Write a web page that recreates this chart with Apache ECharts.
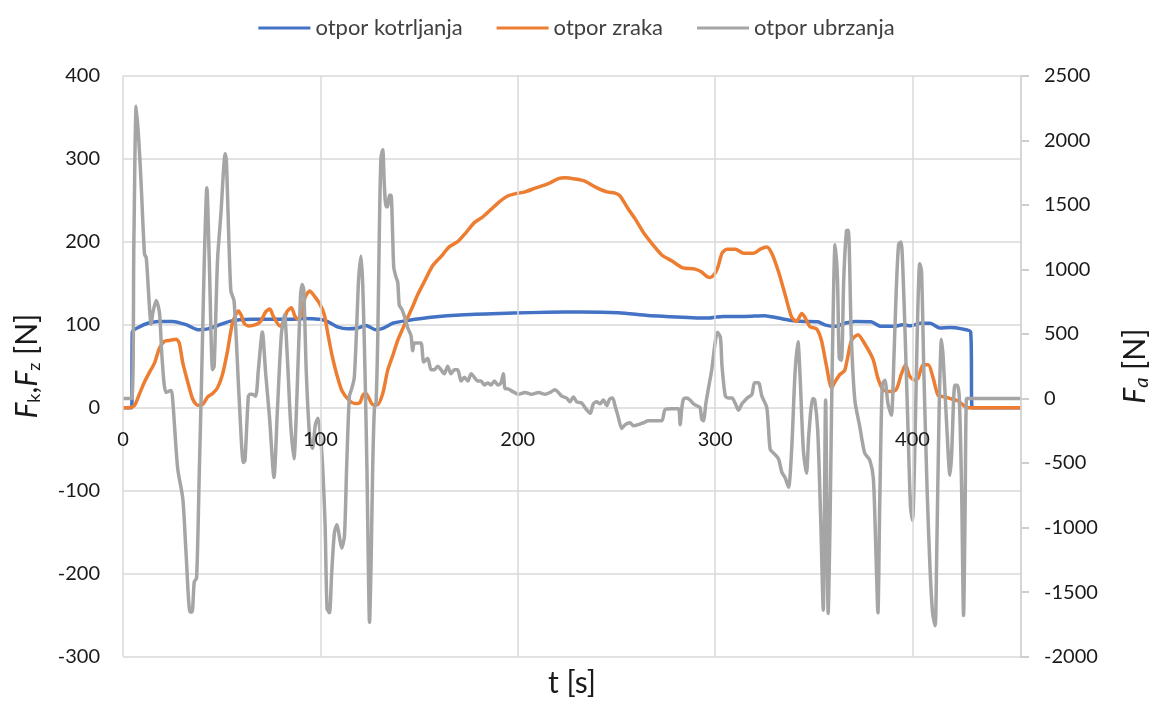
<!DOCTYPE html>
<html>
<head>
<meta charset="utf-8">
<title>Otpori vožnje</title>
<script src="https://cdn.jsdelivr.net/npm/echarts@6/dist/echarts.min.js"></script>
<style>
  html, body { margin: 0; padding: 0; background: #fff; }
  #chart { width: 1153px; height: 705px; }
</style>
</head>
<body>
<div id="chart"></div>
<script>
// otpor kotrljanja (lijeva os, N)
var tKotrljanja = [0, 4.4, 4.7, 8, 13, 18, 25, 32, 38, 43, 48, 54, 59, 65, 75, 85, 92, 97, 100, 104, 109, 114, 119, 123, 128, 132, 137, 144, 156, 173, 198, 215, 232, 251, 266, 275, 297, 300, 304, 315, 325, 332, 339, 345, 352, 356, 361, 366, 371, 379, 384, 391, 395, 399, 404, 409, 414, 419, 425, 429.5, 430.3, 455];
var fKotrljanja = [0, 0, 91, 97, 102, 104, 104, 100, 94, 95, 99, 104, 106, 106.5, 106.5, 106.5, 107.5, 107, 106.5, 103.5, 97, 95, 96, 99, 94, 96, 102, 105, 109, 112, 114, 115, 115.4, 114.4, 111, 110, 108, 109, 110, 110, 110.8, 108, 105, 104, 103.5, 99.5, 98, 102, 104, 103.5, 98, 98, 100, 98.6, 101.6, 101.6, 96, 96.6, 95, 91.3, 0, 0];

// otpor zraka (lijeva os, N)
var tZraka = [0, 3, 5.9, 8.4, 10.9, 13.4, 16, 18.5, 21, 23.5, 27, 28.5, 30.3, 32.8, 35.3, 37.8, 40.3, 42.9, 45.4, 47.9, 50.4, 52.9, 55.5, 58.5, 60, 61.3, 63.6, 67.2, 69.7, 72.3, 74.4, 76, 79.6, 81.5, 83, 85.3, 87, 88.7, 90.8, 92.1, 94.6, 96.5, 99.7, 102, 103.8, 106, 108.2, 111, 114.9, 117.5, 120, 121.5, 123.1, 124.8, 126.5, 129, 131.6, 134.1, 136.7, 139.2, 141.7, 144.3, 146.8, 149.3, 152.7, 156.9, 161.1, 165.4, 169.6, 173.8, 178, 182.3, 186.5, 190.7, 194.9, 199.2, 203.7, 208.8, 215.5, 220.6, 224, 229, 234, 239.2, 245.1, 249.3, 251.9, 256.1, 259.5, 263.7, 267.9, 273, 278, 283.1, 284.8, 289.9, 293.2, 295.8, 297.5, 300, 301.5, 303.5, 306, 310.3, 314.5, 319.5, 322.9, 326.2, 328.7, 332.1, 335.5, 338.8, 341.3, 343.9, 345.5, 348.1, 351.4, 353.9, 356.5, 359, 360.7, 363.2, 365.7, 369.1, 372.4, 375.8, 380, 382.5, 385, 388.4, 391.8, 394.3, 396.5, 398.6, 401.2, 402.9, 405.4, 408, 410.5, 413, 416.4, 419.8, 423.2, 426.6, 428.3, 455];
var fZraka = [0, 0, 3, 17, 31, 42.5, 54, 72, 80, 81, 82.4, 78, 54, 31, 10.5, 3, 3.7, 13, 17, 24, 40, 67.6, 102, 116.5, 111, 102, 98.4, 100, 104, 115.5, 119, 111, 98.4, 104, 115.5, 120.5, 111, 106.5, 113, 132, 140.6, 136, 125, 112, 89, 62, 41, 20, 8, 5, 6, 15, 17, 10.5, 3.7, 3.7, 17, 45, 63, 81, 95, 109, 122, 136, 152, 171, 182, 194, 200, 211, 223, 230, 239, 248, 255, 258, 260, 264.5, 270, 276, 277, 275.6, 273, 266, 260, 258.5, 255, 239, 227.5, 211, 198, 184, 177, 169, 168, 167, 163.5, 158, 157, 162, 170, 186, 191, 191, 186, 186, 191, 193.6, 186, 164, 136, 109, 104, 113.5, 109, 97.5, 95, 81, 49.5, 24, 31, 40, 45, 81, 88, 77, 58.6, 35.6, 22, 19.6, 22, 40, 51.6, 38, 33, 35.6, 51.6, 51.6, 35.6, 15, 13, 10.5, 8, 1.4, 0, 0];

// otpor ubrzanja (desna os, N)
var tUbrzanja = [0, 4.4, 5.5, 6.7, 8, 9.2, 10.9, 11.8, 14.3, 15.1, 16.8, 18.5, 19.8, 21.8, 24.4, 25.2, 27.7, 30.3, 31.9, 34, 35, 36.1, 37.3, 38.7, 39.8, 41.2, 42.5, 43.7, 45.4, 46.2, 47.9, 49.6, 51.8, 52.4, 54.6, 56.3, 58.8, 61, 61.8, 63.5, 64.4, 65.5, 67.2, 68.6, 70.6, 72.3, 74.3, 76.5, 78.2, 80.2, 81.8, 83.2, 84.9, 86.6, 88.2, 89.9, 90.8, 91.6, 92.9, 94.6, 96, 97.5, 98.8, 100, 101.2, 102.4, 103.4, 104.6, 105.7, 107.1, 108.4, 109.6, 110.8, 112.2, 113.3, 114.7, 115.9, 117.2, 118.6, 119.4, 120.6, 121.5, 122.6, 123.6, 124.3, 124.9, 125.7, 126.5, 127.4, 128.2, 129.1, 129.9, 130.7, 131.6, 132.4, 133.3, 134.1, 135, 135.8, 136.6, 137.2, 138.3, 139.2, 140, 141.2, 142.6, 144.3, 145.9, 146.8, 147.6, 149.3, 151, 152.4, 154.4, 156.1, 157.8, 159.5, 161.1, 162.8, 164.5, 166.2, 167.9, 169.6, 171.3, 173, 174.7, 176.4, 178, 179.7, 181.4, 183.1, 184.8, 186.5, 188.2, 190, 191.5, 192.7, 193.6, 194.9, 196.6, 198.3, 200.3, 203.7, 207, 210.5, 213.9, 216.4, 218.9, 220.6, 222.3, 224.8, 226.5, 228.2, 229.9, 232.4, 234.1, 236.7, 238.3, 240, 241.7, 243.4, 245.1, 246.5, 248.1, 249.3, 250.7, 252.7, 254.4, 256.9, 258.6, 261.1, 263.7, 266.2, 269.6, 273, 274.7, 278, 281.4, 282.3, 283.1, 284, 285.6, 287.3, 289, 290.7, 292.4, 293.2, 294.1, 295.3, 296.6, 298.3, 300, 301.2, 302.7, 303.5, 305.2, 306.9, 308.6, 310.3, 311.9, 313.6, 315.3, 317, 318.7, 320, 322, 323.7, 326.2, 327.9, 329.6, 332.1, 333.8, 335.5, 337.2, 338.8, 340.5, 342, 343, 344.7, 346.3, 347.5, 349.5, 350.5, 352, 353.6, 354.8, 356, 357.3, 358.2, 359, 359.8, 360.8, 362, 362.9, 364, 365.2, 366.6, 367.5, 369, 370.8, 373.3, 375.8, 378.4, 380.2, 381.5, 382.5, 383.4, 384.7, 386, 387.6, 389.3, 390.6, 391.8, 393, 394.2, 395.1, 396.3, 397.6, 399, 400, 401.2, 402.4, 403.7, 404.6, 405.8, 407.4, 408.8, 410.2, 411.5, 412.2, 413.5, 414.7, 415.6, 417.3, 419, 419.8, 421.5, 422.7, 423.7, 424.9, 425.9, 426.6, 427.4, 428.3, 455];
var fUbrzanja = [0, 0, 1200, 2263, 2000, 1659, 1118, 1089, 575, 662, 759, 662, 310, 47, 61, -13, -541, -776, -1184, -1654, -1654, -1421, -1390, -541, 135, 1073, 1632, 1073, 223, 250, 1073, 1427, 1896, 1838, 839, 752, 17, -496, -482, 17, 32, 32, 17, 223, 514, 192, -159, -612, -100, 488, 649, 340, -187, -467, 47, 781, 882, 839, 192, -300, -385, -200, -153, -277, -541, -978, -1627, -1660, -1363, -1042, -978, -1067, -1158, -1067, -541, 17, 76, 164, 636, 926, 1103, 868, 223, -541, -1274, -1735, -1274, -541, -72, -41, 488, 1309, 1864, 1926, 1659, 1485, 1485, 1575, 1575, 1280, 1015, 942, 900, 720, 694, 636, 546, 488, 370, 430, 430, 430, 282, 311, 223, 223, 250, 223, 192, 250, 192, 223, 223, 135, 164, 135, 192, 164, 135, 135, 105, 120, 105, 135, 105, 120, 192, 76, 76, 61, 47, 32, 47, 32, 47, 32, 47, 68, 47, 18, 3, -26, 12, -26, -35, -71, -115, -41, -26, -41, -12, -56, -6, 3, -56, -129, -232, -203, -188, -212, -203, -188, -173, -173, -173, -85, -79, -79, -203, -79, -6, 3, -12, -41, -56, -71, -159, -173, -41, 76, 223, 429, 512, 473, 253, 18, 3, 3, -41, -91, -41, -12, 12, 32, 121, 121, 18, -71, -394, -423, -467, -570, -614, -688, -394, 194, 440, 194, -394, -580, -276, 0, -12, -247, -982, -1640, -12, -1665, -1000, -100, 635, 1190, 929, 312, 296, 929, 1300, 1303, 488, -12, -218, -423, -478, -620, -1200, -1660, -835, 106, 142, -41, -130, 312, 841, 1194, 1212, 1017, 488, -159, -835, -945, -397, 485, 1044, 985, 191, -691, -1279, -1661, -1760, -1300, -103, 456, 309, -191, -594, -450, 103, 103, 15, -691, -1680, -985, 0, 0, 0];

var seriesNames = ['otpor kotrljanja', 'otpor zraka', 'otpor ubrzanja'];
var seriesColors = ['#4472C4', '#ED7D31', '#A5A5A5'];

function zip(t, f) {
  var out = [];
  for (var i = 0; i < t.length; i++) out.push([t[i], f[i]]);
  return out;
}

var chart = echarts.init(document.getElementById('chart'));
var font = 'Lato, "Noto Sans", sans-serif';
var gridColor = '#D9D9D9';
var textColor = '#1a1a1a';

// grid box, and where y = 0 of the left axis sits inside it
var gridTop = 75.7, gridBottom = 48.3;
var plotH = 705 - gridTop - gridBottom;
var zeroFromBottom = plotH * 300 / 700;

function plain(v) { return String(v); }

function lineSeries(i, data, yIndex) {
  return {
    name: seriesNames[i],
    type: 'line',
    yAxisIndex: yIndex,
    data: data,
    showSymbol: false,
    symbol: 'none',
    smooth: 0.25,
    lineStyle: { width: 3.5, color: seriesColors[i] },
    itemStyle: { color: seriesColors[i] },
    z: 2 + i,
    animation: false
  };
}

var option = {
  animation: false,
  textStyle: { fontFamily: font },
  legend: {
    top: 12,
    left: 'center',
    icon: 'rect',
    itemWidth: 52,
    itemHeight: 3,
    itemGap: 34,
    textStyle: { fontSize: 22, color: '#404040', fontFamily: font },
    data: seriesNames
  },
  grid: {
    left: 123, right: 132, top: gridTop, bottom: gridBottom,
    containLabel: false,
    outerBoundsMode: 'none'
  },
  xAxis: {
    type: 'value',
    min: 0,
    max: 455,
    interval: 100,
    z: 10,
    name: 't [s]',
    nameLocation: 'middle',
    nameGap: 12,
    nameTextStyle: { fontSize: 30, color: textColor, fontFamily: font, verticalAlign: 'top' },
    axisLine: { show: false },
    axisTick: { show: false },
    // labels sit just under the y = 0 line of the left axis
    axisLabel: { fontSize: 20, color: textColor, margin: -(zeroFromBottom - 22), showMaxLabel: false, fontFamily: font, formatter: plain },
    splitLine: { show: true, lineStyle: { color: gridColor, width: 1.5 } }
  },
  yAxis: [
    {
      type: 'value',
      position: 'left',
      min: -300,
      max: 400,
      interval: 100,
      name: '{i|F}{s|k}{t|,}{i|F}{s|z}{t| [N]}',
      nameLocation: 'middle',
      nameRotate: 90,
      nameGap: 80,
      nameTextStyle: {
        color: textColor,
        rich: {
          i: { fontSize: 30, fontStyle: 'italic', color: textColor, fontFamily: font },
          s: { fontSize: 18, color: textColor, fontFamily: font, padding: [14, 0, 0, 0] },
          t: { fontSize: 30, color: textColor, fontFamily: font }
        }
      },
      axisLine: { show: false },
      axisTick: { show: false },
      axisLabel: { fontSize: 20, color: textColor, margin: 23, fontFamily: font, formatter: plain },
      splitLine: { show: true, lineStyle: { color: gridColor, width: 1.5 } }
    },
    {
      type: 'value',
      position: 'right',
      min: -2000,
      max: 2500,
      interval: 500,
      name: '{i|F}{s|a}{t| [N]}',
      nameLocation: 'middle',
      nameRotate: 90,
      nameGap: 97,
      nameTextStyle: {
        color: textColor,
        rich: {
          i: { fontSize: 30, fontStyle: 'italic', color: textColor, fontFamily: font },
          s: { fontSize: 20, fontStyle: 'italic', color: textColor, fontFamily: font, padding: [14, 0, 0, 0] },
          t: { fontSize: 30, color: textColor, fontFamily: font }
        }
      },
      axisLine: { show: true, lineStyle: { color: '#BFBFBF', width: 1.5 } },
      axisTick: { show: true, length: 8, lineStyle: { color: '#BFBFBF', width: 1.5 } },
      axisLabel: { fontSize: 20, color: textColor, margin: 23, fontFamily: font, formatter: plain },
      splitLine: { show: false }
    }
  ],
  series: [
    lineSeries(0, zip(tKotrljanja, fKotrljanja), 0),
    lineSeries(1, zip(tZraka, fZraka), 0),
    lineSeries(2, zip(tUbrzanja, fUbrzanja), 1)
  ]
};

chart.setOption(option);
</script>
</body>
</html>
